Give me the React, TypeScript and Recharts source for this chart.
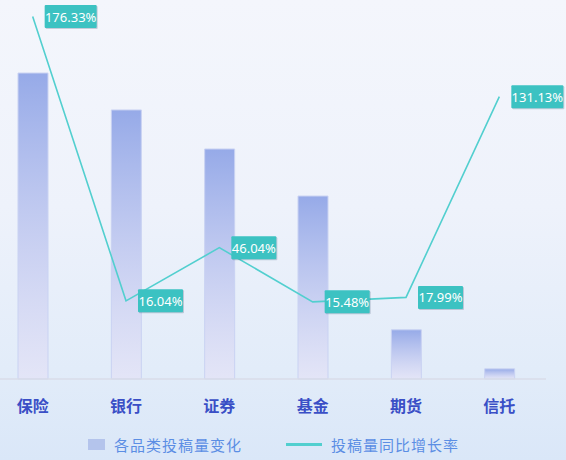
import { Bar, ComposedChart, Legend, Line, XAxis, YAxis } from "recharts";

const categories = ["保险", "银行", "证券", "基金", "期货", "信托"];
const submissions = [995, 875, 748, 595, 160, 33];
const growthRates = [176.33, 16.04, 46.04, 15.48, 17.99, 131.13];

const barName = "各品类投稿量变化";
const lineName = "投稿量同比增长率";

const data = categories.map((name, i) => ({
  name,
  count: submissions[i],
  rate: growthRates[i],
}));

const cjkFont = '"Noto Sans CJK SC", "Noto Sans", sans-serif';
const teal = "#52cfcf";

function CategoryTick({ x, y, payload }: any) {
  return (
    <text
      x={x}
      y={y + 26}
      textAnchor="middle"
      dominantBaseline="central"
      fill="#3a4fc6"
      fontSize={16}
      fontWeight={700}
      fontFamily={cjkFont}
    >
      {payload.value}
    </text>
  );
}

function RateLabel({ x, y, value }: any) {
  const text = `${Number(value).toFixed(2)}%`;
  const w = text.length * 7 + 3;
  const left = x + 12;
  return (
    <g>
      <rect x={left + 1} y={y - 10.5} width={w} height={23} fill="rgba(60,80,110,0.25)" rx={1} />
      <rect x={left} y={y - 11.5} width={w} height={23} fill="#3cc2c2" rx={1} />
      <text
        x={left + w / 2}
        y={y}
        textAnchor="middle"
        dominantBaseline="central"
        fill="#ffffff"
        fontSize={13}
        fontFamily='"Noto Sans", sans-serif'
      >
        {text}
      </text>
    </g>
  );
}

function ChartLegend() {
  const textStyle = { position: "absolute" as const, top: 10, color: "#5b8ee4", fontSize: 15, fontFamily: cjkFont, lineHeight: "20px", letterSpacing: 1 };
  return (
    <div style={{ position: "relative", width: 580, height: 35 }}>
      <div style={{ position: "absolute", left: 102, top: 14, width: 17, height: 11, background: "#b4c4ec" }} />
      <div style={{ ...textStyle, left: 128 }}>{barName}</div>
      <div style={{ position: "absolute", left: 300, top: 18, width: 36, height: 3, background: teal }} />
      <div style={{ ...textStyle, left: 345 }}>{lineName}</div>
    </div>
  );
}

export default function App() {
  return (
    <div
      style={{
        position: "fixed",
        left: 0,
        top: 0,
        width: 566,
        height: 460,
        overflow: "hidden",
        background: "linear-gradient(180deg, #f4f6fc 0%, #eef2fb 45%, #e2ecf9 80%, #dae7f8 100%)",
      }}
    >
      <div style={{ position: "absolute", left: -14, top: 0 }}>
        <ComposedChart width={580} height={460} data={data} margin={{ top: 10, right: 20, bottom: 0, left: 0 }}>
          <defs>
            <linearGradient id="barFill" x1="0" y1="0" x2="0" y2="1">
              <stop offset="0%" stopColor="#96aae8" stopOpacity={1} />
              <stop offset="100%" stopColor="#e4e2f6" stopOpacity={0.7} />
            </linearGradient>
          </defs>
          <XAxis
            dataKey="name"
            height={46}
            tickSize={0}
            tickMargin={0}
            tick={<CategoryTick />}
            axisLine={{ stroke: "#d8dde9", strokeWidth: 1.5 }}
            tickLine={false}
          />
          <YAxis yAxisId="count" domain={[0, 1200]} hide />
          <YAxis yAxisId="rate" orientation="right" domain={[-28, 180]} hide />
          <Legend verticalAlign="bottom" height={35} wrapperStyle={{ left: 0, width: 580 }} content={<ChartLegend />} />
          <Bar
            yAxisId="count"
            dataKey="count"
            name={barName}
            fill="url(#barFill)"
            stroke="#c9d2f2"
            strokeWidth={1}
            barSize={30}
            isAnimationActive={false}
          />
          <Line
            yAxisId="rate"
            type="linear"
            dataKey="rate"
            name={lineName}
            stroke={teal}
            strokeWidth={1.6}
            dot={false}
            activeDot={false}
            label={<RateLabel />}
            isAnimationActive={false}
          />
        </ComposedChart>
      </div>
    </div>
  );
}
